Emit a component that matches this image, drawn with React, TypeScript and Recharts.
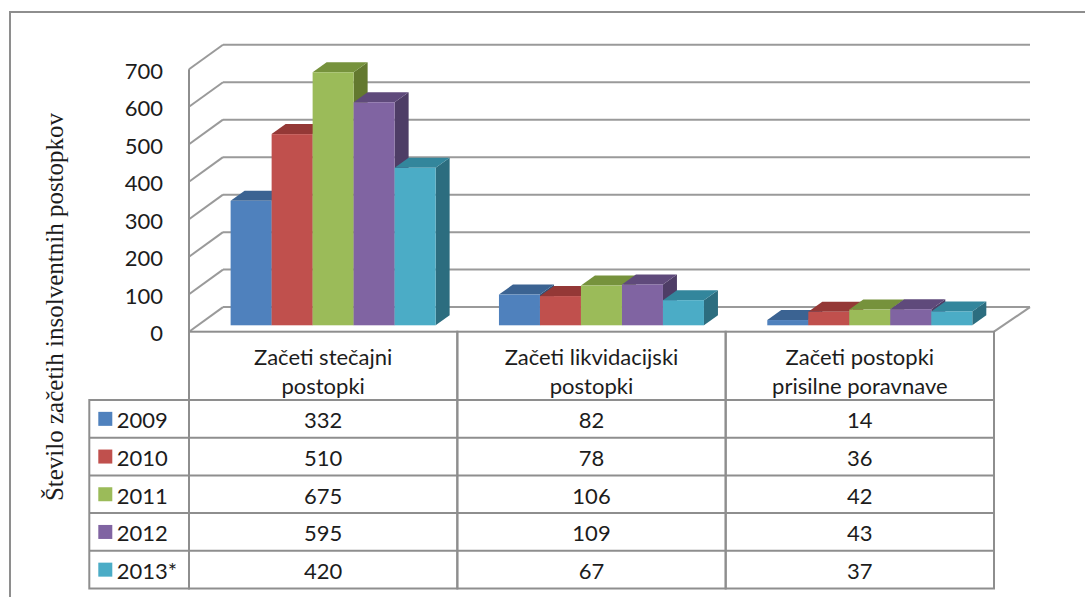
import React from 'react';
import { BarChart, Bar, XAxis, YAxis, CartesianGrid } from 'recharts';

// ---------- data ----------
const categories = [
  'Začeti stečajni postopki',
  'Začeti likvidacijski postopki',
  'Začeti postopki prisilne poravnave',
];
const categoryLines = [
  ['Začeti stečajni', 'postopki'],
  ['Začeti likvidacijski', 'postopki'],
  ['Začeti postopki', 'prisilne poravnave'],
];
const seriesNames = ['2009', '2010', '2011', '2012', '2013*'];
const values2009 = [332, 82, 14];
const values2010 = [510, 78, 36];
const values2011 = [675, 106, 42];
const values2012 = [595, 109, 43];
const values2013 = [420, 67, 37];
const yTicks = [0, 100, 200, 300, 400, 500, 600, 700];
const yTitle = 'Število začetih insolventnih postopkov';

const seriesValues = [values2009, values2010, values2011, values2012, values2013];
const seriesKeys = ['s0', 's1', 's2', 's3', 's4'];

const data = categories.map((c, i) => {
  const row: any = { category: c };
  seriesKeys.forEach((k, s) => {
    row[k] = seriesValues[s][i];
  });
  return row;
});

// ---------- styles / layout ----------
const frontColors = ['#4F81BD', '#C0504D', '#9BBB59', '#8064A2', '#4BACC6'];
const topColors = ['#3B6392', '#943836', '#76923C', '#5F4A7B', '#33869C'];
const sideColors = ['#2E5077', '#7A2E2C', '#63792F', '#4E3D66', '#2C6D7F'];

const CHART_W = 1085;
const CHART_H = 597;
const PLOT_LEFT = 189;
const PLOT_RIGHT = 994;
const PLOT_TOP = 69.3;
const PLOT_BOTTOM = 331.7;
const Y_AXIS_W = 60;

const WALL_DX = 34;
const WALL_DY = 24.6;
const WALL_RIGHT_DX = 36;
const BAR_SHIFT_X = 10.5;
const BAR_SHIFT_Y = 6.4;
const BAR_DEPTH_X = 14;
const BAR_DEPTH_Y = 10;

const HEADER_BOTTOM = 400;
const ROW_H = 37.7;
const TABLE_BOTTOM = HEADER_BOTTOM + ROW_H * seriesNames.length;
const LEGEND_LEFT = 89.3;

const LINE_COLOR = '#8e8e8e';
const GRID_COLOR = '#9a9a9a';
const TEXT_COLOR = '#1c1c1c';
const FONT = 'Lato, "Open Sans", sans-serif';
const SERIF_FONT = "'Liberation Serif', 'DejaVu Serif', serif";
const FONT_SIZE = 22;

const bandW = (PLOT_RIGHT - PLOT_LEFT) / categories.length;

// ---------- renderers ----------
const make3DShape = (s: number) => (props: any) => {
  const { x, y, width, height } = props;
  if (x == null || y == null || !width || height == null) return <g />;
  const fx = x + BAR_SHIFT_X;
  const fy = y - BAR_SHIFT_Y;
  const dx = BAR_DEPTH_X;
  const dy = BAR_DEPTH_Y;
  return (
    <g>
      <polygon
        points={`${fx + width},${fy} ${fx + width + dx},${fy - dy} ${fx + width + dx},${fy + height - dy} ${fx + width},${fy + height}`}
        fill={sideColors[s]}
      />
      <polygon
        points={`${fx},${fy} ${fx + width},${fy} ${fx + width + dx},${fy - dy} ${fx + dx},${fy - dy}`}
        fill={topColors[s]}
      />
      <rect x={fx} y={fy} width={width} height={height} fill={frontColors[s]} />
    </g>
  );
};

const renderGridLine = (p: any) => {
  const { x1, x2, y1 } = p;
  const bx = x1 + WALL_DX;
  const by = y1 - WALL_DY;
  const bottom = (p.y ?? 0) + (p.height ?? 0);
  const isFloor = Math.abs(y1 - bottom) < 1;
  return (
    <g key={`g-${y1}`}>
      <line x1={x1} y1={y1} x2={bx} y2={by} stroke={GRID_COLOR} strokeWidth={2} />
      <line x1={bx} y1={by} x2={x2 + WALL_RIGHT_DX} y2={by} stroke={GRID_COLOR} strokeWidth={2} />
      {isFloor && (
        <line x1={x2 + WALL_RIGHT_DX} y1={by} x2={x2} y2={y1} stroke={GRID_COLOR} strokeWidth={2} />
      )}
    </g>
  );
};

const YTick = (props: any) => {
  const { y, payload } = props;
  return (
    <text
      x={PLOT_LEFT - 26}
      y={y + 1}
      textAnchor="end"
      dominantBaseline="central"
      fontFamily={FONT}
      fontSize={FONT_SIZE}
      fill={TEXT_COLOR}
    >
      {payload.value}
    </text>
  );
};

const XTableColumn = (props: any) => {
  const { x, payload } = props;
  const ci = categories.indexOf(payload.value);
  const left = x - bandW / 2;
  const lines = categoryLines[ci] || [payload.value];
  return (
    <g>
      <rect
        x={left}
        y={PLOT_BOTTOM}
        width={bandW}
        height={TABLE_BOTTOM - PLOT_BOTTOM}
        fill="none"
        stroke={LINE_COLOR}
        strokeWidth={2}
      />
      {lines.map((t, li) => (
        <text
          key={li}
          x={x}
          y={356.7 + li * 28.3}
          textAnchor="middle"
          dominantBaseline="central"
          fontFamily={FONT}
          fontSize={FONT_SIZE}
          fill={TEXT_COLOR}
        >
          {t}
        </text>
      ))}
      {seriesNames.map((n, s) => (
        <g key={n}>
          <line
            x1={ci === 0 ? LEGEND_LEFT : left}
            y1={HEADER_BOTTOM + s * ROW_H}
            x2={left + bandW}
            y2={HEADER_BOTTOM + s * ROW_H}
            stroke={LINE_COLOR}
            strokeWidth={2}
          />
          <text
            x={x}
            y={HEADER_BOTTOM + s * ROW_H + ROW_H / 2 + 1}
            textAnchor="middle"
            dominantBaseline="central"
            fontFamily={FONT}
            fontSize={FONT_SIZE}
            fill={TEXT_COLOR}
          >
            {seriesValues[s][ci]}
          </text>
        </g>
      ))}
      {ci === 0 && (
        <g>
          <rect
            x={LEGEND_LEFT}
            y={HEADER_BOTTOM}
            width={left - LEGEND_LEFT}
            height={TABLE_BOTTOM - HEADER_BOTTOM}
            fill="none"
            stroke={LINE_COLOR}
            strokeWidth={2}
          />
          {seriesNames.map((n, s) => {
            const cy = HEADER_BOTTOM + s * ROW_H + ROW_H / 2;
            return (
              <g key={n}>
                <rect x={LEGEND_LEFT + 9} y={cy - 7} width={14} height={14} fill={frontColors[s]} />
                <text
                  x={LEGEND_LEFT + 27.5}
                  y={cy + 1}
                  textAnchor="start"
                  dominantBaseline="central"
                  fontFamily={FONT}
                  fontSize={FONT_SIZE}
                  fill={TEXT_COLOR}
                >
                  {n}
                </text>
              </g>
            );
          })}
        </g>
      )}
    </g>
  );
};

export default function App() {
  return (
    <div style={{ position: 'absolute', left: 0, top: 0, width: CHART_W, height: CHART_H, background: '#fff', overflow: 'hidden' }}>
      <div
        style={{
          position: 'absolute',
          left: 9,
          top: 11,
          width: 1200,
          height: 700,
          borderLeft: `2px solid ${LINE_COLOR}`,
          borderTop: `2px solid ${LINE_COLOR}`,
        }}
      />
      <div style={{ position: 'absolute', left: 0, top: 0 }}>
        <BarChart
          width={CHART_W}
          height={CHART_H}
          data={data}
          margin={{ top: PLOT_TOP, right: CHART_W - PLOT_RIGHT, bottom: 0, left: PLOT_LEFT - Y_AXIS_W }}
          barCategoryGap="11.6%"
          barGap={0}
        >
          <CartesianGrid vertical={false} horizontal={renderGridLine} />
          <XAxis
            dataKey="category"
            axisLine={false}
            tickLine={false}
            interval={0}
            height={CHART_H - PLOT_BOTTOM}
            tick={<XTableColumn />}
          />
          <YAxis
            width={Y_AXIS_W}
            domain={[0, 700]}
            ticks={yTicks}
            interval={0}
            tickLine={false}
            axisLine={{ stroke: LINE_COLOR, strokeWidth: 2 }}
            tick={<YTick />}
          />
          {seriesKeys.map((k, s) => (
            <Bar
              key={k}
              dataKey={k}
              name={seriesNames[s]}
              fill={frontColors[s]}
              isAnimationActive={false}
              shape={make3DShape(s)}
            />
          ))}
        </BarChart>
      </div>
      <div
        style={{
          position: 'absolute',
          left: 54,
          top: 307,
          transform: 'translate(-50%, -50%) rotate(-90deg)',
          whiteSpace: 'nowrap',
          fontFamily: SERIF_FONT,
          fontSize: 25,
          lineHeight: '27px',
          color: TEXT_COLOR,
        }}
      >
        {yTitle}
      </div>
    </div>
  );
}
